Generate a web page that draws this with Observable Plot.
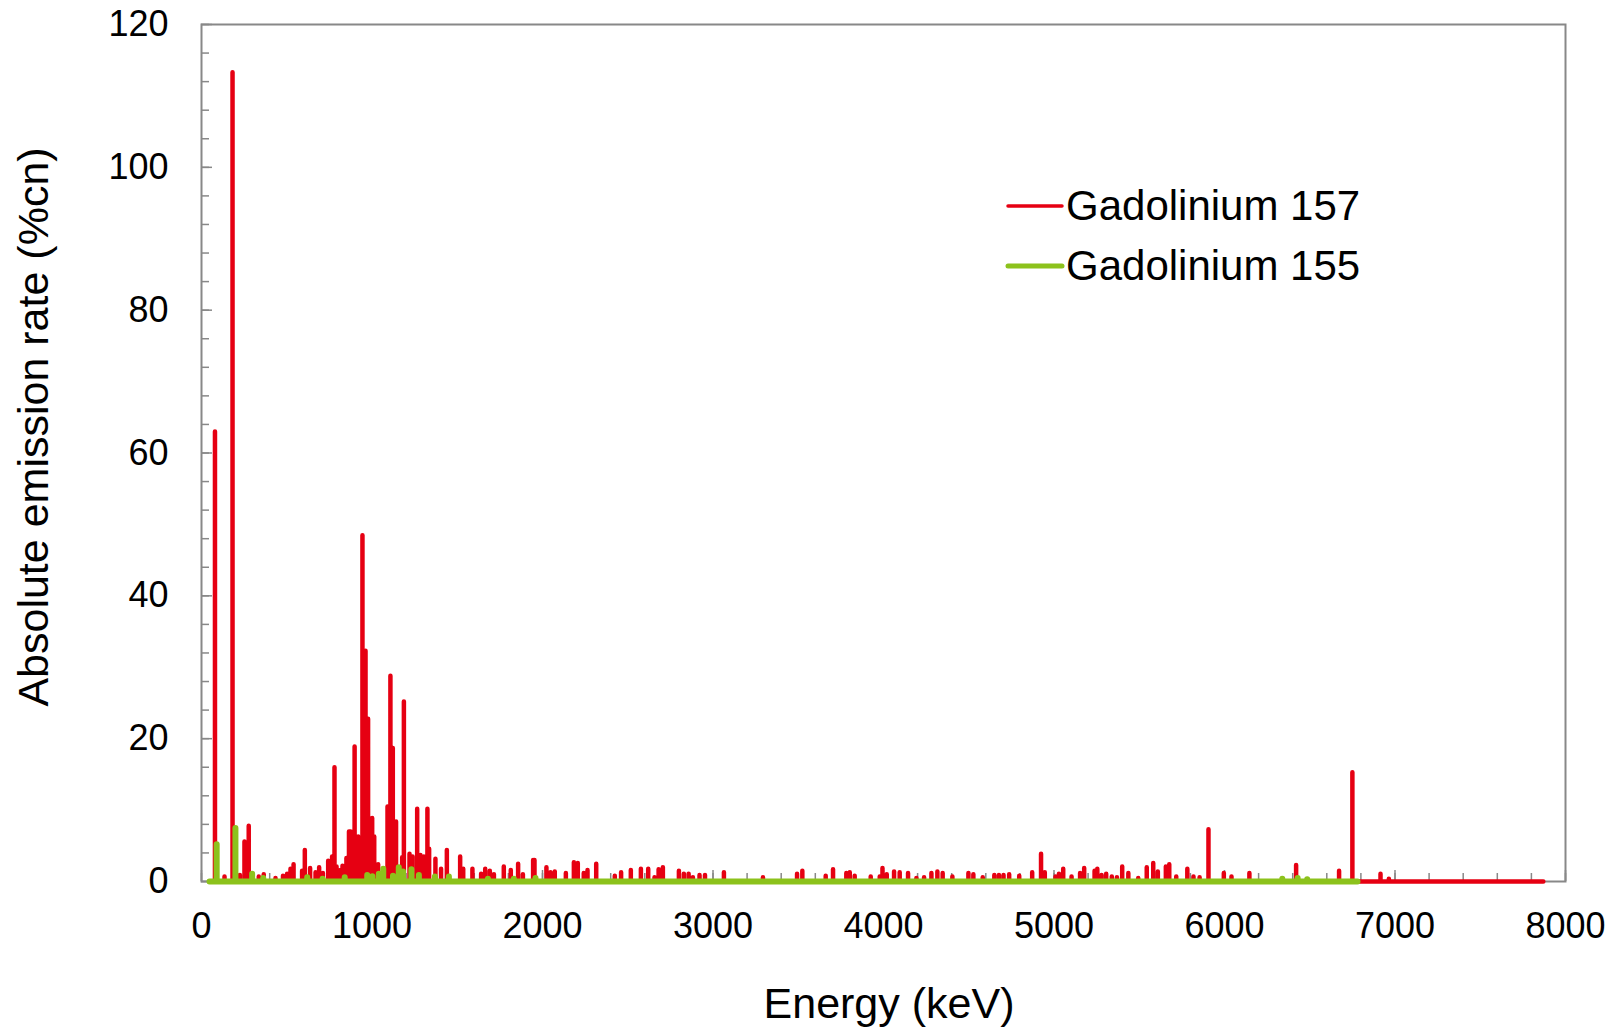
<!DOCTYPE html>
<html>
<head>
<meta charset="utf-8">
<script src="https://cdn.jsdelivr.net/npm/d3@7"></script>
<script src="https://cdn.jsdelivr.net/npm/@observablehq/plot@0.6"></script>
<style>
  html, body { margin: 0; padding: 0; background: #fff; }
  svg { display: block; }
</style>
</head>
<body>
<script>
// Gadolinium 157 peaks: energy (keV) and absolute emission rate (%cn)
const e157 = [79, 135, 182, 225, 252, 277, 336, 365, 434, 478, 502, 522, 540, 590, 606, 637, 669, 690, 712, 743, 766, 780, 792, 815, 827, 850, 865, 875, 898, 919, 933, 944, 962, 977, 1001, 1013, 1036, 1091, 1108, 1122, 1141, 1177, 1187, 1220, 1238, 1265, 1284, 1304, 1325, 1335, 1372, 1405, 1439, 1517, 1535, 1589, 1640, 1664, 1691, 1715, 1773, 1814, 1857, 1885, 1945, 1953, 2023, 2047, 2072, 2137, 2184, 2207, 2242, 2264, 2315, 2424, 2461, 2518, 2577, 2620, 2657, 2681, 2706, 2800, 2829, 2857, 2882, 2921, 2953, 3064, 3293, 3493, 3524, 3661, 3704, 3782, 3802, 3831, 3925, 3978, 3994, 4019, 4062, 4095, 4144, 4193, 4238, 4281, 4316, 4347, 4404, 4498, 4527, 4582, 4650, 4677, 4704, 4737, 4796, 4872, 4924, 4946, 5009, 5029, 5054, 5103, 5153, 5177, 5238, 5254, 5279, 5306, 5339, 5369, 5400, 5436, 5494, 5544, 5582, 5609, 5656, 5676, 5717, 5782, 5818, 5854, 5906, 5996, 6041, 6146, 6420, 6672, 6750, 6915, 6964];
const r157 = [63.0, 0.7, 113.3, 0.9, 5.6, 7.8, 0.7, 1.0, 0.5, 0.8, 1.1, 1.8, 2.4, 1.5, 4.4, 1.9, 1.3, 2.0, 1.2, 2.9, 3.5, 16.0, 2.1, 1.6, 2.2, 3.3, 7.0, 7.0, 18.9, 6.3, 4.3, 48.5, 32.3, 22.8, 8.9, 6.3, 2.4, 10.5, 28.8, 18.7, 8.4, 3.4, 25.2, 3.9, 3.5, 10.2, 3.7, 3.5, 10.2, 4.6, 3.2, 1.8, 4.4, 3.5, 1.8, 1.8, 1.1, 1.8, 1.5, 1.0, 2.1, 1.6, 2.5, 1.0, 3.0, 3.0, 2.0, 1.3, 1.4, 1.2, 2.7, 2.6, 1.2, 1.6, 2.5, 0.8, 1.3, 1.6, 1.8, 1.8, 0.6, 1.7, 2.0, 1.5, 1.1, 1.1, 0.6, 0.9, 0.9, 1.3, 0.6, 1.1, 1.5, 0.8, 1.7, 1.2, 1.3, 0.8, 0.7, 0.7, 1.9, 1.0, 1.4, 1.3, 1.2, 0.5, 0.6, 1.2, 1.4, 1.2, 0.7, 1.2, 1.0, 0.6, 0.9, 0.9, 0.9, 1.0, 0.8, 1.3, 3.9, 1.3, 0.7, 1.1, 1.8, 0.7, 1.2, 1.9, 1.5, 1.8, 0.9, 1.1, 0.7, 0.6, 2.1, 1.2, 0.5, 2.0, 2.6, 1.4, 2.1, 2.4, 0.7, 1.8, 0.7, 0.6, 7.3, 1.2, 0.7, 1.2, 2.3, 1.5, 15.3, 1.1, 0.4];
const span157 = [50, 7870];

// Gadolinium 155 peaks
const e155 = [89, 199, 297, 362, 620, 710, 840, 972, 1002, 1040, 1066, 1123, 1157, 1182, 1231, 1275, 1369, 1451, 1680, 1832, 1959, 6339, 6429, 6485];
const r155 = [5.2, 7.5, 1.1, 0.5, 0.6, 0.4, 0.6, 0.9, 0.75, 1.1, 1.8, 0.8, 2.0, 1.4, 1.7, 0.9, 0.7, 0.7, 0.4, 0.4, 0.5, 0.4, 0.5, 0.3];
const span155 = [47, 6780];

const series = ["Gadolinium 157", "Gadolinium 155"];
const colors = ["#e60012", "#8cc21c"];
const widths = [4.5, 6];

const xTicks = [0, 1000, 2000, 3000, 4000, 5000, 6000, 7000, 8000];
const yTicks = [0, 20, 40, 60, 80, 100, 120];
const xMinor = d3.range(0, 8001, 200);
const yMinor = d3.range(0, 121, 4);

const xTitle = "Energy (keV)";
const yTitle = "Absolute emission rate (%cn)";

function spectrum(energies, rates, span) {
  const pts = [{e: span[0], r: 0}];
  energies.forEach((e, i) => { pts.push({e, r: 0}, {e, r: rates[i]}, {e, r: 0}); });
  pts.push({e: span[1], r: 0});
  return pts;
}

const gray = "#888888";
const font = "'Liberation Sans', Arial, sans-serif";
const plain = (d) => String(d);

const chart = Plot.plot({
  width: 1616,
  height: 1031,
  marginLeft: 201,
  marginRight: 51,
  marginTop: 24,
  marginBottom: 150,
  style: {fontFamily: font, color: "#000", background: "#fff"},
  x: {domain: [0, 8000]},
  y: {domain: [0, 120]},
  marks: [
    Plot.frame({stroke: gray, strokeWidth: 2}),
    Plot.axisY(yMinor, {tickSize: -8, stroke: gray, strokeWidth: 1.5, tickFormat: () => "", label: null}),
    Plot.axisY(yTicks, {tickSize: -11, stroke: gray, strokeWidth: 1.5, tickFormat: () => "", label: null}),
    Plot.axisY(yTicks, {tickSize: 0, tickPadding: 33, fontSize: 36, tickFormat: plain, label: null}),
    Plot.axisX(xMinor, {tickSize: -8, stroke: gray, strokeWidth: 1.5, tickFormat: () => "", label: null}),
    Plot.axisX(xTicks, {tickSize: -11, stroke: gray, strokeWidth: 1.5, tickFormat: () => "", label: null}),
    Plot.axisX(xTicks, {tickSize: 0, tickPadding: 31, fontSize: 36, tickFormat: plain, label: null}),
    Plot.line(spectrum(e157, r157, span157), {x: "e", y: "r", stroke: colors[0], strokeWidth: widths[0], strokeLinejoin: "round", strokeLinecap: "round"}),
    Plot.line(spectrum(e155, r155, span155), {x: "e", y: "r", stroke: colors[1], strokeWidth: widths[1], strokeLinejoin: "round", strokeLinecap: "round"})
  ]
});

document.body.appendChild(chart);

const svg = d3.select(chart);
// axis titles
svg.append("text")
  .attr("x", 889).attr("y", 1018)
  .attr("text-anchor", "middle")
  .attr("font-family", font).attr("font-size", 43).attr("fill", "#000")
  .text(xTitle);
svg.append("text")
  .attr("transform", "translate(48,427) rotate(-90)")
  .attr("text-anchor", "middle")
  .attr("font-family", font).attr("font-size", 43).attr("fill", "#000")
  .text(yTitle);

// legend
const lg = svg.append("g");
series.forEach((s, i) => {
  const cy = 206 + i * 60;
  lg.append("line")
    .attr("x1", 1008).attr("x2", 1062).attr("y1", cy).attr("y2", cy)
    .attr("stroke", colors[i]).attr("stroke-width", widths[i] - 1)
    .attr("stroke-linecap", "round");
  lg.append("text")
    .attr("x", 1066).attr("y", cy + 14)
    .attr("text-anchor", "start")
    .attr("font-family", font).attr("font-size", 42).attr("fill", "#000")
    .text(s);
});
</script>
</body>
</html>
